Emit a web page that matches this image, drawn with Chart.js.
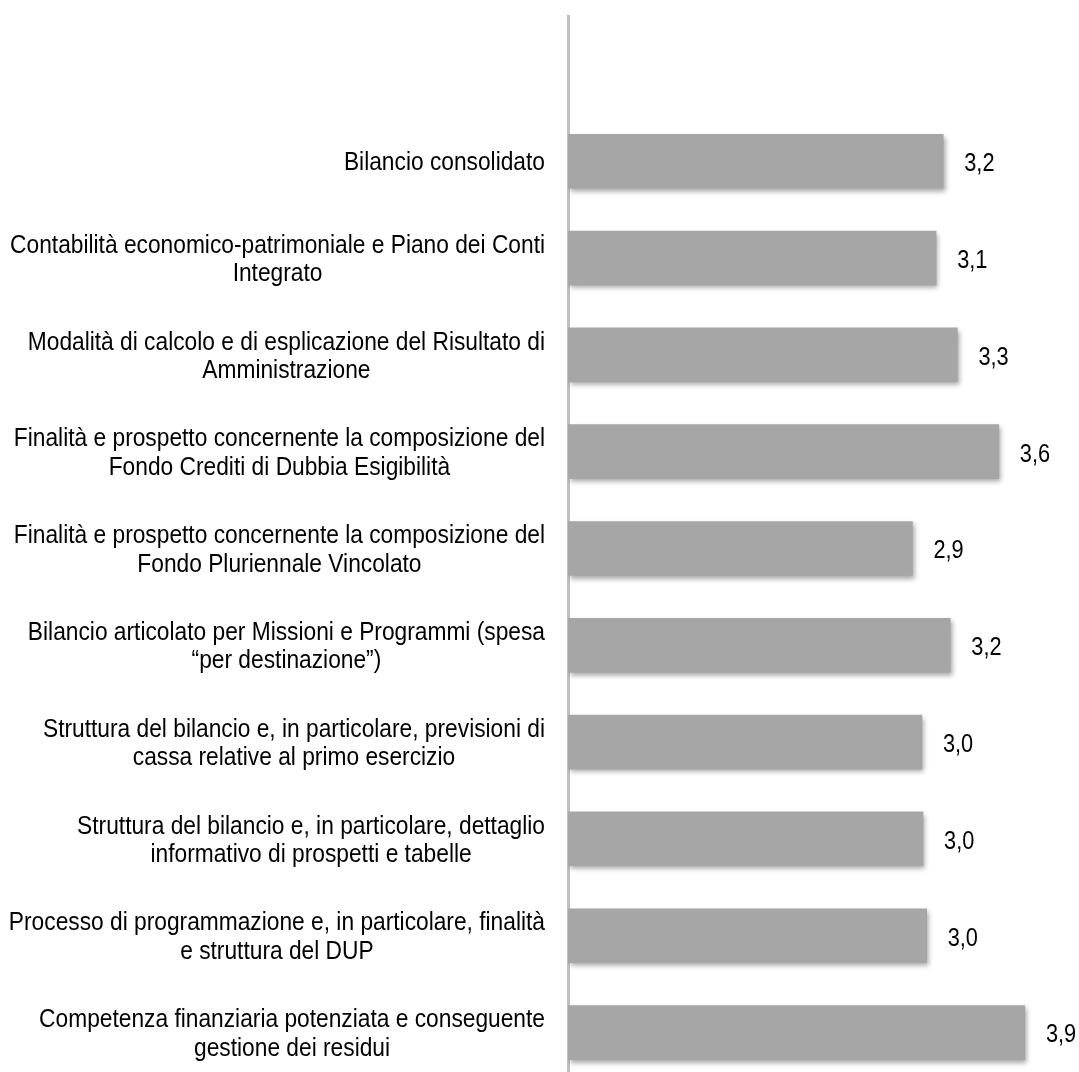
<!DOCTYPE html>
<html>
<head>
<meta charset="utf-8">
<script src="https://cdn.jsdelivr.net/npm/chart.js@4"></script>
<style>
  html, body { margin: 0; padding: 0; background: #fff; overflow: hidden; }
  #wrap { width: 1079px; height: 1082px; position: relative; }
</style>
</head>
<body>
<div id="wrap"><canvas id="myChart"></canvas></div>
<script>
// categories (top to bottom); the first slot is empty in the original
const categories = [
    [''],
    ['Bilancio consolidato'],
    ['Contabilità economico-patrimoniale e Piano dei Conti', 'Integrato'],
    ['Modalità di calcolo e di esplicazione del Risultato di', 'Amministrazione'],
    ['Finalità e prospetto concernente la composizione del', 'Fondo Crediti di Dubbia Esigibilità'],
    ['Finalità e prospetto concernente la composizione del', 'Fondo Pluriennale Vincolato'],
    ['Bilancio articolato per Missioni e Programmi (spesa', '“per destinazione”)'],
    ['Struttura del bilancio e, in particolare, previsioni di', 'cassa relative al primo esercizio'],
    ['Struttura del bilancio e, in particolare, dettaglio', 'informativo di prospetti e tabelle'],
    ['Processo di programmazione e, in particolare, finalità', 'e struttura del DUP'],
    ['Competenza finanziaria potenziata e conseguente', 'gestione dei residui']
];
// average scores
const scores = [null, 3.17, 3.11, 3.29, 3.64, 2.91, 3.23, 2.99, 3.00, 3.03, 3.86];

// the original uses a narrow sans, so the text is squeezed horizontally
const labelFont = '25px "Liberation Sans", Arial, sans-serif';
const valueFont = '25px "Liberation Sans", Arial, sans-serif';
const labelSqueeze = 0.91;
const valueSqueeze = 0.87;

// soft drop shadow under the bars
const barShadow = {
    id: 'barShadow',
    beforeDatasetsDraw(chart) {
        const ctx = chart.ctx;
        ctx.save();
        ctx.shadowColor = 'rgba(0,0,0,0.35)';
        ctx.shadowBlur = 5;
        ctx.shadowOffsetX = 2;
        ctx.shadowOffsetY = 3;
    },
    afterDatasetsDraw(chart) {
        chart.ctx.restore();
    }
};

function narrowText(ctx, text, x, y, k) {
    ctx.save();
    ctx.translate(x, y);
    ctx.scale(k, 1);
    ctx.fillText(text, 0, 0);
    ctx.restore();
}

// category labels: block right aligned, lines centred within the block
const catLabels = {
    id: 'catLabels',
    afterDraw(chart) {
        const ctx = chart.ctx;
        const y = chart.scales.y;
        const right = 545, lineH = 28.5;
        ctx.save();
        ctx.font = labelFont;
        ctx.fillStyle = '#000';
        ctx.textAlign = 'center';
        ctx.textBaseline = 'middle';
        categories.forEach((lines, i) => {
            const w = Math.max(...lines.map(l => ctx.measureText(l).width)) * labelSqueeze;
            const cx = right - w / 2;
            const cy = y.getPixelForValue(i) + 2;
            lines.forEach((l, j) => {
                narrowText(ctx, l, cx, cy + (j - (lines.length - 1) / 2) * lineH, labelSqueeze);
            });
        });
        ctx.restore();
    }
};

// value labels with a decimal comma
const valueLabels = {
    id: 'valueLabels',
    afterDraw(chart) {
        const ctx = chart.ctx;
        const meta = chart.getDatasetMeta(0);
        ctx.save();
        ctx.font = valueFont;
        ctx.fillStyle = '#000';
        ctx.textAlign = 'left';
        ctx.textBaseline = 'middle';
        meta.data.forEach((bar, i) => {
            if (scores[i] == null) return;
            narrowText(ctx, scores[i].toFixed(1).replace('.', ','), bar.x + 21, bar.y + 3, valueSqueeze);
        });
        ctx.restore();
    }
};

const config = {
    type: 'bar',
    data: {
        labels: categories,
        datasets: [{
            data: scores,
            backgroundColor: '#a6a6a6',
            borderWidth: 0,
            barThickness: 54
        }]
    },
    options: {
        indexAxis: 'y',
        responsive: true,
        maintainAspectRatio: false,
        animation: false,
        layout: { padding: { top: 16, bottom: 1, right: 2, left: 0 } },
        plugins: {
            legend: { display: false },
            tooltip: { enabled: false }
        },
        scales: {
            x: {
                display: false,
                min: 0,
                max: 4.3
            },
            y: {
                grid: { display: false },
                border: { display: true, color: '#bfbfbf', width: 3 },
                ticks: { display: false },
                afterFit(scale) { scale.width = 568; }
            }
        }
    },
    plugins: [barShadow, catLabels, valueLabels]
};

const myChart = new Chart(document.getElementById('myChart'), config);
</script>
</body>
</html>
